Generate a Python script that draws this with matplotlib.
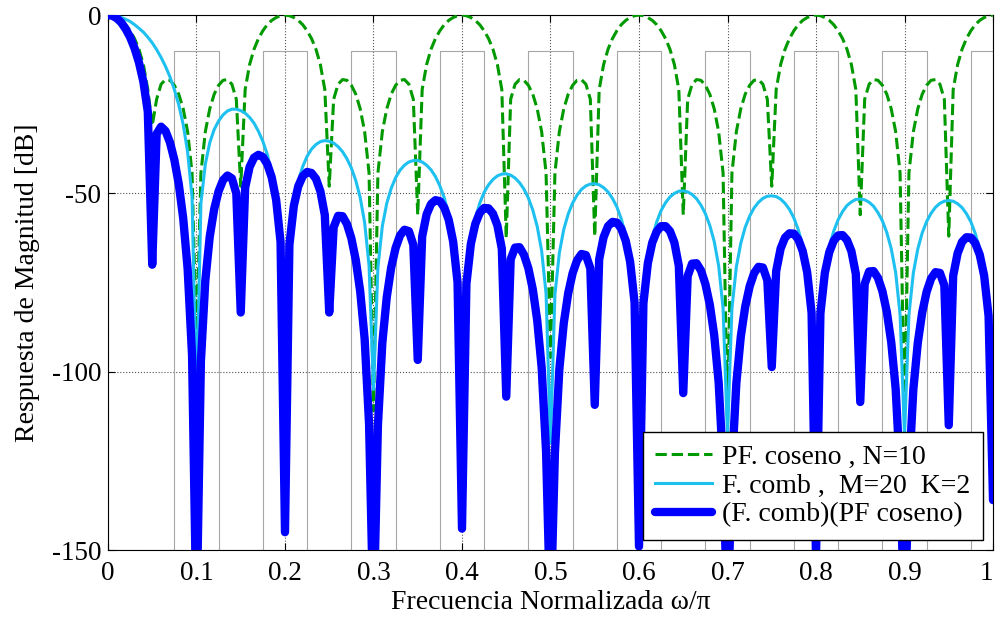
import numpy as np
import matplotlib

matplotlib.use("Agg")
import matplotlib.pyplot as plt

plt.rcParams["font.family"] = ["Liberation Serif", "DejaVu Serif"]
plt.rcParams["font.size"] = 20

# sample grid: 0 .. 1 in steps of 0.005 (201 points)
freq = np.linspace(0.0, 1.0, 201)

# PF. coseno, N=10 (dB)
coseno_db = [
    0.0, -0.2, -0.7, -1.5, -2.7, -4.4, -6.6, -9.6, -13.9, -20.9,
    -31.0, -23.6, -19.4, -18.1, -18.3, -19.7, -22.2, -26.3, -32.7, -44.3,
    -93.0, -44.3, -32.7, -26.3, -22.2, -19.7, -18.3, -18.1, -19.4, -23.6,
    -48.0, -20.9, -13.9, -9.6, -6.6, -4.4, -2.7, -1.5, -0.7, -0.2,
    0.0, -0.2, -0.7, -1.5, -2.7, -4.4, -6.6, -9.6, -13.9, -20.9,
    -48.0, -23.6, -19.4, -18.1, -18.3, -19.7, -22.2, -26.3, -32.7, -44.3,
    -111.0, -44.3, -32.7, -26.3, -22.2, -19.7, -18.3, -18.1, -19.4, -23.6,
    -56.0, -20.9, -13.9, -9.6, -6.6, -4.4, -2.7, -1.5, -0.7, -0.2,
    0.0, -0.2, -0.7, -1.5, -2.7, -4.4, -6.6, -9.6, -13.9, -20.9,
    -62.5, -23.6, -19.4, -18.1, -18.3, -19.7, -22.2, -26.3, -32.7, -44.3,
    -96.0, -44.3, -32.7, -26.3, -22.2, -19.7, -18.3, -18.1, -19.4, -23.6,
    -62.0, -20.9, -13.9, -9.6, -6.6, -4.4, -2.7, -1.5, -0.7, -0.2,
    0.0, -0.2, -0.7, -1.5, -2.7, -4.4, -6.6, -9.6, -13.9, -20.9,
    -56.0, -23.6, -19.4, -18.1, -18.3, -19.7, -22.2, -26.3, -32.7, -44.3,
    -115.0, -44.3, -32.7, -26.3, -22.2, -19.7, -18.3, -18.1, -19.4, -23.6,
    -48.0, -20.9, -13.9, -9.6, -6.6, -4.4, -2.7, -1.5, -0.7, -0.2,
    0.0, -0.2, -0.7, -1.5, -2.7, -4.4, -6.6, -9.6, -13.9, -20.9,
    -56.0, -23.6, -19.4, -18.1, -18.3, -19.7, -22.2, -26.3, -32.7, -44.3,
    -113.0, -44.3, -32.7, -26.3, -22.2, -19.7, -18.3, -18.1, -19.4, -23.6,
    -62.0, -20.9, -13.9, -9.6, -6.6, -4.4, -2.7, -1.5, -0.7, -0.2,
    0.0,
]

# F. comb, M=20 K=2 (dB)
comb_db = [
    0.0, -0.1, -0.3, -0.7, -1.2, -1.8, -2.7, -3.7, -4.8, -6.2,
    -7.8, -9.7, -11.9, -14.4, -17.3, -20.9, -25.2, -30.7, -38.4, -51.1,
    -110.0, -52.8, -41.8, -35.8, -32.1, -29.7, -28.0, -26.9, -26.4, -26.4,
    -26.8, -27.5, -28.7, -30.3, -32.6, -35.4, -39.1, -44.0, -51.1, -63.4,
    -145.0, -64.3, -52.8, -46.5, -42.5, -39.6, -37.6, -36.3, -35.5, -35.2,
    -35.4, -35.9, -36.9, -38.3, -40.3, -42.9, -46.4, -51.2, -58.2, -70.3,
    -105.0, -70.8, -59.2, -52.8, -48.6, -45.6, -43.5, -42.1, -41.2, -40.8,
    -40.8, -41.2, -42.1, -43.4, -45.3, -47.9, -51.3, -55.9, -62.8, -74.8,
    -144.0, -75.2, -63.6, -57.1, -52.8, -49.7, -47.6, -46.1, -45.1, -44.6,
    -44.5, -44.9, -45.7, -47.0, -48.8, -51.3, -54.7, -59.3, -66.1, -78.1,
    -120.0, -78.4, -66.7, -60.1, -55.8, -52.7, -50.5, -48.9, -47.9, -47.4,
    -47.3, -47.6, -48.4, -49.6, -51.4, -53.8, -57.2, -61.8, -68.5, -80.5,
    -149.0, -80.7, -68.9, -62.4, -58.0, -54.8, -52.6, -51.0, -50.0, -49.4,
    -49.3, -49.6, -50.3, -51.5, -53.3, -55.7, -59.0, -63.5, -70.3, -82.2,
    -118.0, -82.3, -70.6, -64.0, -59.5, -56.4, -54.1, -52.5, -51.4, -50.8,
    -50.7, -50.9, -51.6, -52.8, -54.5, -56.9, -60.2, -64.7, -71.5, -83.4,
    -152.0, -83.4, -71.7, -65.0, -60.6, -57.4, -55.1, -53.4, -52.4, -51.7,
    -51.6, -51.8, -52.5, -53.6, -55.4, -57.7, -61.0, -65.5, -72.2, -84.0,
    -118.0, -84.1, -72.3, -65.6, -61.1, -57.9, -55.6, -53.9, -52.8, -52.2,
    -52.0, -52.2, -52.9, -54.0, -55.7, -58.0, -61.3, -65.7, -72.4, -84.3,
    -136.0,
]

# (F. comb)(PF coseno) (dB)
product_db = [
    0.0, -0.2, -0.9, -2.1, -3.9, -6.2, -9.3, -13.3, -18.7, -27.1,
    -70.0, -33.3, -31.3, -32.5, -35.7, -40.6, -47.4, -57.0, -71.1, -95.4,
    -170.0, -97.1, -74.4, -62.1, -54.4, -49.4, -46.3, -45.0, -45.8, -50.0,
    -83.4, -48.4, -42.6, -40.0, -39.2, -39.8, -41.8, -45.5, -51.8, -63.6,
    -145.0, -64.4, -53.5, -48.0, -45.2, -44.0, -44.3, -45.9, -49.4, -56.1,
    -83.4, -59.5, -56.3, -56.4, -58.6, -62.6, -68.7, -77.5, -90.8, -114.6,
    -170.0, -115.1, -91.9, -79.1, -70.8, -65.3, -61.8, -60.2, -60.6, -64.4,
    -96.7, -62.1, -55.9, -53.0, -51.9, -52.2, -54.0, -57.4, -63.5, -75.0,
    -144.0, -75.4, -64.2, -58.6, -55.5, -54.1, -54.2, -55.7, -59.0, -65.5,
    -107.0, -68.5, -65.2, -65.1, -67.2, -71.0, -76.9, -85.6, -98.8, -122.4,
    -170.0, -122.7, -99.3, -86.4, -78.0, -72.4, -68.8, -67.0, -67.3, -71.0,
    -109.3, -68.5, -62.3, -59.2, -58.0, -58.2, -59.9, -63.3, -69.2, -80.6,
    -149.0, -80.8, -69.6, -63.8, -60.7, -59.2, -59.2, -60.6, -63.8, -70.3,
    -106.0, -73.2, -69.7, -69.6, -71.6, -75.4, -81.2, -89.8, -103.0, -126.5,
    -170.0, -126.7, -103.2, -90.2, -81.8, -76.1, -72.4, -70.6, -70.8, -74.4,
    -98.7, -71.8, -65.5, -62.4, -61.2, -61.3, -62.9, -66.2, -72.1, -83.5,
    -152.0, -83.6, -72.3, -66.5, -63.3, -61.8, -61.7, -63.1, -66.2, -72.6,
    -108.5, -75.4, -71.9, -71.8, -73.7, -77.4, -83.2, -91.7, -104.8, -128.4,
    -170.0, -128.4, -104.9, -91.9, -83.4, -77.6, -73.9, -72.1, -72.3, -75.8,
    -115.0, -73.1, -66.8, -63.6, -62.3, -62.4, -64.0, -67.2, -73.1, -84.4,
    -136.0,
]

# gray template bands (top at -10 dB)
band_lo = [0.075, 0.175, 0.275, 0.375, 0.475, 0.575, 0.675, 0.775, 0.875, 0.975]
band_hi = [0.125, 0.225, 0.325, 0.425, 0.525, 0.625, 0.725, 0.825, 0.925, 1.025]
band_top = -10
band_floor = -150

labels = ["PF. coseno , N=10", "F. comb ,  M=20  K=2", "(F. comb)(PF coseno)"]
xtick_labels = ["0", "0.1", "0.2", "0.3", "0.4", "0.5", "0.6", "0.7", "0.8", "0.9", "1"]

fig = plt.figure(figsize=(9.97, 6.21), dpi=100)
ax = fig.add_axes([0.1083, 0.1143, 0.8877, 0.8615])

# template as a step outline
mx, my = [0.0], [band_floor]
for lo, hi in zip(band_lo, band_hi):
    mx += [lo, lo, hi, hi]
    my += [band_floor, band_top, band_top, band_floor]
ax.plot(mx, my, color="#a6a6a6", lw=0.8, zorder=1)

ax.plot(freq, coseno_db, "--", color="#009900", lw=2.2, label=labels[0], zorder=3)
ax.plot(freq, comb_db, "-", color="#1ec0f0", lw=2.2, label=labels[1], zorder=3)
ax.plot(freq, product_db, "-", color="#0000ff", lw=6, label=labels[2], zorder=4,
        solid_capstyle="round")

ax.set_xlim(0, 1)
ax.set_ylim(-150, 0)
ax.set_xticks(np.arange(0, 1.01, 0.1))
ax.set_xticklabels(xtick_labels)
ax.set_yticks([0, -50, -100, -150])
ax.set_yticklabels(["0", "-50", "-100", "-150"])
ax.tick_params(direction="in", length=5, width=0.8, top=True, right=True,
               labelsize=19.5)
ax.tick_params(axis="x", pad=8)
ax.tick_params(axis="y", pad=5)
# last tick label sits on the figure edge, nudge it left like the original
ax.get_xticklabels()[-1].set_horizontalalignment("right")
ax.grid(True, color="#555555", linestyle=":", lw=0.8)
ax.set_axisbelow(True)
for s in ax.spines.values():
    s.set_linewidth(0.8)

ax.set_xlabel("Frecuencia Normalizada ω/π", fontsize=20, labelpad=3)
ax.set_ylabel("Respuesta de Magnitud [dB]", fontsize=20, labelpad=8)

leg = ax.legend(loc="lower right", bbox_to_anchor=(0.9887, 0.0187),
                borderaxespad=0, fancybox=False, framealpha=1,
                edgecolor="black", fontsize=20, handlelength=2.05,
                handletextpad=0.36, labelspacing=0.12, borderpad=0.45)
leg.get_frame().set_linewidth(1.0)

fig.savefig("out.png", dpi=100)
